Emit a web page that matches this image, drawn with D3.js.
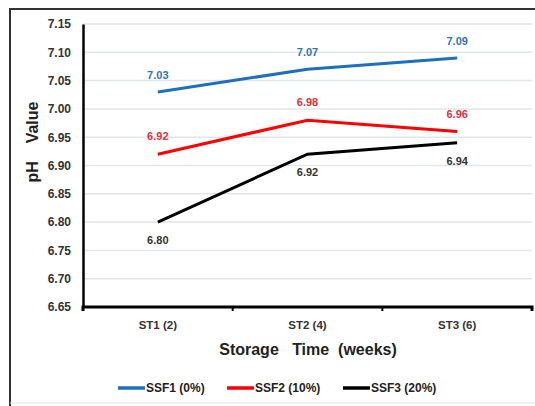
<!DOCTYPE html>
<html>
<head>
<meta charset="utf-8">
<script src="https://cdn.jsdelivr.net/npm/d3@7"></script>
<style>
  html, body { margin: 0; padding: 0; background: #fff; }
  svg { display: block; }
</style>
</head>
<body>
<svg id="chart" width="535" height="406"></svg>
<script>
// Storage periods on the x axis
const categories = ["ST1 (2)", "ST2 (4)", "ST3 (6)"];
// pH values for each formulation
const ssf1 = [7.03, 7.07, 7.09];
const ssf2 = [6.92, 6.98, 6.96];
const ssf3 = [6.80, 6.92, 6.94];
const seriesNames = ["SSF1 (0%)", "SSF2 (10%)", "SSF3 (20%)"];
const yTicks = [6.65, 6.70, 6.75, 6.80, 6.85, 6.90, 6.95, 7.00, 7.05, 7.10, 7.15];

const series = [
  { name: seriesNames[0], values: ssf1, color: "#1f6fbf", labelColor: "#2e75b6", labelDy: -13 },
  { name: seriesNames[1], values: ssf2, color: "#ff0000", labelColor: "#e0303a", labelDy: -14 },
  { name: seriesNames[2], values: ssf3, color: "#000000", labelColor: "#333333", labelDy: 22 }
];

const svg = d3.select("#chart");
const font = "'Liberation Sans', Arial, sans-serif";

// outer frame
svg.append("rect")
  .attr("x", 10).attr("y", 9)
  .attr("width", 540).attr("height", 410)
  .attr("fill", "none").attr("stroke", "#333").attr("stroke-width", 2);
svg.append("line")
  .attr("x1", 10).attr("x2", 535).attr("y1", 403).attr("y2", 403)
  .attr("stroke", "#e4e4e4").attr("stroke-width", 1);

const plot = { left: 83, right: 532, top: 24, bottom: 307 };

const x = d3.scaleBand().domain(categories).range([plot.left, plot.right]).padding(0);
const y = d3.scaleLinear().domain([6.65, 7.15]).range([plot.bottom, plot.top]);

// horizontal gridlines
svg.append("g")
  .selectAll("line")
  .data(yTicks.slice(1))
  .join("line")
  .attr("x1", plot.left).attr("x2", plot.right)
  .attr("y1", d => y(d)).attr("y2", d => y(d))
  .attr("stroke", "#e2e5ea").attr("stroke-width", 1.5);

// y axis
const yAxis = svg.append("g")
  .attr("transform", `translate(${plot.left},0)`)
  .call(d3.axisLeft(y).tickValues(yTicks).tickFormat(d3.format(".2f")).tickSize(0).tickPadding(12));
yAxis.select(".domain").attr("stroke", "#000").attr("stroke-width", 2.5);
yAxis.selectAll("text")
  .attr("font-family", font).attr("font-size", 12).attr("font-weight", "bold").attr("fill", "#333");

// x axis
const xAxis = svg.append("g")
  .attr("transform", `translate(0,${plot.bottom})`)
  .call(d3.axisBottom(x).tickSize(0).tickPadding(14));
xAxis.select(".domain").attr("stroke", "#000").attr("stroke-width", 3)
  .attr("d", `M${plot.left},4V0H${plot.right}V4`);
xAxis.selectAll("text")
  .attr("font-family", font).attr("font-size", 11.5).attr("font-weight", "bold").attr("fill", "#333");
// band boundary ticks
xAxis.selectAll(".bound")
  .data(categories.slice(1))
  .join("line")
  .attr("class", "bound")
  .attr("x1", d => x(d)).attr("x2", d => x(d))
  .attr("y1", 0).attr("y2", 4)
  .attr("stroke", "#000").attr("stroke-width", 2);

// axis titles
svg.append("text")
  .attr("x", 308).attr("y", 355)
  .attr("text-anchor", "middle")
  .attr("font-family", font).attr("font-size", 16).attr("font-weight", "bold").attr("fill", "#222")
  .attr("xml:space", "preserve")
  .text("Storage   Time  (weeks)");

svg.append("text")
  .attr("transform", "translate(38,142) rotate(-90)")
  .attr("text-anchor", "middle")
  .attr("font-family", font).attr("font-size", 16).attr("font-weight", "bold").attr("fill", "#222")
  .attr("xml:space", "preserve")
  .text("pH    Value");

// series lines
const line = d3.line()
  .x((d, i) => x(categories[i]) + x.bandwidth() / 2)
  .y(d => y(d));

series.forEach(s => {
  svg.append("path")
    .datum(s.values)
    .attr("d", line)
    .attr("fill", "none")
    .attr("stroke", s.color)
    .attr("stroke-width", 3);

  svg.append("g")
    .selectAll("text")
    .data(s.values)
    .join("text")
    .attr("x", (d, i) => x(categories[i]) + x.bandwidth() / 2)
    .attr("y", d => y(d) + s.labelDy)
    .attr("text-anchor", "middle")
    .attr("font-family", font).attr("font-size", 11).attr("font-weight", "bold")
    .attr("fill", s.labelColor)
    .text(d => d3.format(".2f")(d));
});

// legend
const legendX = [118, 227, 343];
const legend = svg.append("g");
series.forEach((s, i) => {
  legend.append("line")
    .attr("x1", legendX[i]).attr("x2", legendX[i] + 27)
    .attr("y1", 388).attr("y2", 388)
    .attr("stroke", s.color).attr("stroke-width", 3.5);
  legend.append("text")
    .attr("x", legendX[i] + 28).attr("y", 392)
    .attr("font-family", font).attr("font-size", 12).attr("font-weight", "bold").attr("fill", "#222")
    .text(s.name);
});
</script>
</body>
</html>
